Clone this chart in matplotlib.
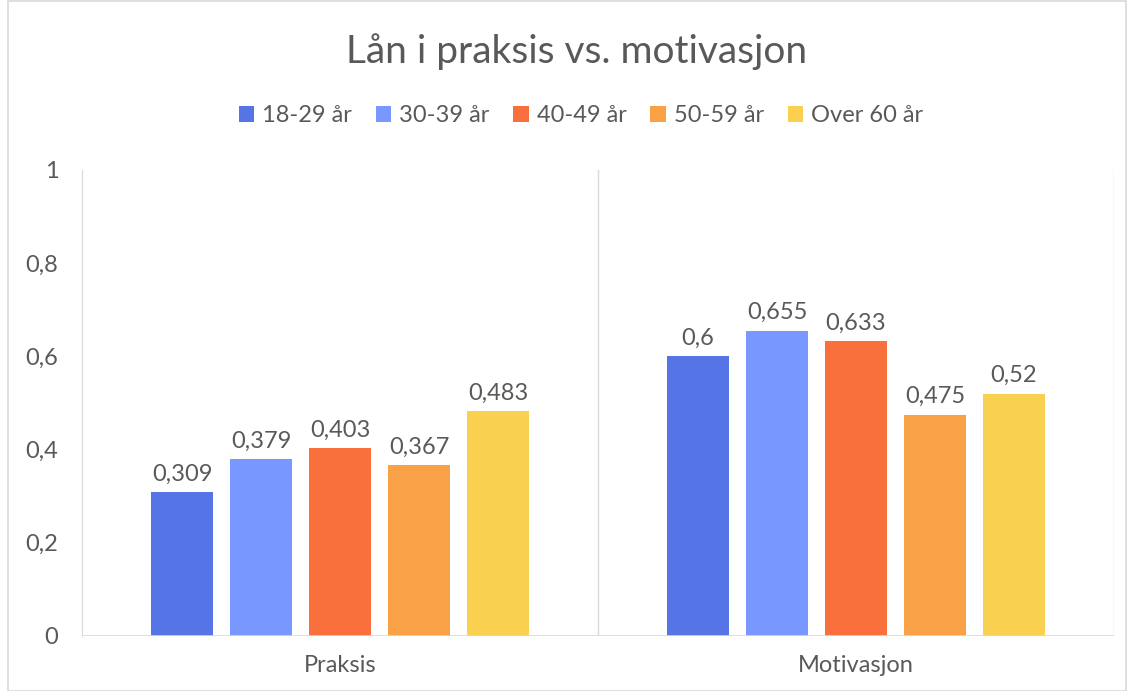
import matplotlib
matplotlib.use("Agg")
import matplotlib.pyplot as plt
from matplotlib.patches import Rectangle

categories = ["Praksis", "Motivasjon"]
series = ["18-29 år", "30-39 år", "40-49 år", "50-59 år", "Over 60 år"]
values = {
    "18-29 år": [0.309, 0.6],
    "30-39 år": [0.379, 0.655],
    "40-49 år": [0.403, 0.633],
    "50-59 år": [0.367, 0.475],
    "Over 60 år": [0.483, 0.52],
}
colors = ["#5574E6", "#7898FF", "#F9703D", "#F9A147", "#FAD050"]
yticks = [0, 0.2, 0.4, 0.6, 0.8, 1]

plt.rcParams['font.family'] = ['Lato', 'DejaVu Sans']
txt = "#595959"

fig = plt.figure(figsize=(11.34, 6.91), dpi=100)
W, H = 1134, 691
ax = fig.add_axes([82 / W, 1 - 636 / H, (1114 - 82) / W, (636 - 170) / H])

step = 0.153
bw = 0.12
for i, s in enumerate(series):
    xs = [c + 0.5 + (i - 2) * step for c in range(len(categories))]
    ax.bar(xs, values[s], width=bw, color=colors[i], label=s, zorder=3)
    for x, v in zip(xs, values[s]):
        ax.text(x, v + 0.016, f"{v:g}".replace(".", ","), ha="center", va="bottom",
                fontsize=17, color=txt)

ax.set_xlim(0, 2)
ax.set_ylim(0, 1)
ax.set_yticks(yticks)
ax.set_yticklabels([f"{t:g}".replace(".", ",") for t in yticks], fontsize=17, color=txt)
ax.set_xticks([0.5, 1.5])
ax.set_xticklabels(categories, fontsize=17, color=txt)
ax.tick_params(axis="both", length=0)
ax.tick_params(axis="y", pad=17)
ax.tick_params(axis="x", pad=14)
for sp in ["top", "right", "bottom"]:
    ax.spines[sp].set_visible(False)
ax.spines["left"].set_color("#D9D9D9")
ax.axhline(0, color="#D9D9D9", lw=1.2, zorder=4)
for xv in [1, 2]:
    ax.axvline(xv, color="#D9D9D9", lw=1.0, zorder=1)

fig.text(577 / W, 1 - 52 / H, "Lån i praksis vs. motivasjon", ha="center", va="center",
         fontsize=28, color=txt)
fig.legend(loc="center", bbox_to_anchor=(581 / W, 1 - 116 / H), ncol=5, frameon=False,
           fontsize=17, labelcolor=txt, handlelength=0.65, handleheight=0.65,
           handletextpad=0.35, columnspacing=1.0)

fig.patches.append(Rectangle((8 / W, 0), 1 - 16 / W, 1 - 1 / H, transform=fig.transFigure,
                             fill=False, edgecolor="#D9D9D9", lw=1.2))

fig.savefig("out.png", dpi=100, facecolor="white")
